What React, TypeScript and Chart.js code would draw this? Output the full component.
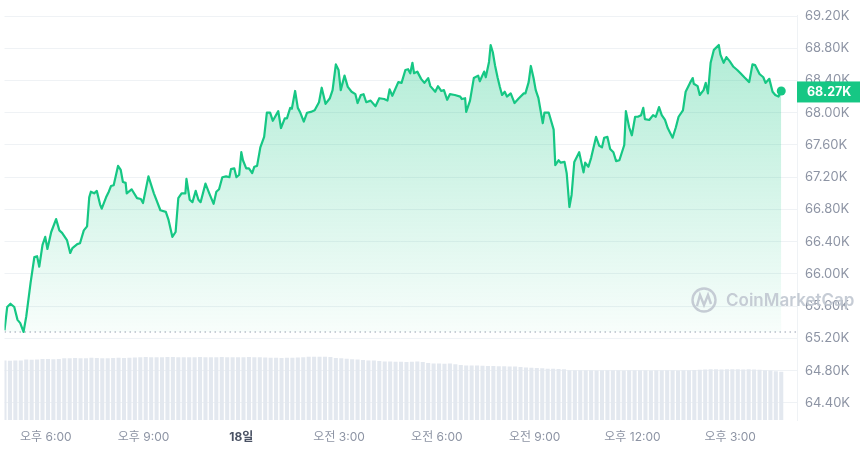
import React, { useEffect, useRef } from "react";
import { Chart, registerables } from "chart.js";

Chart.register(...registerables);

// minutes since 17일 16:44
const times = [
  0,5,11,18,24,29,35,40,48,55,60,64,70,75,79,86,95,101,106,115,121,125,134,139,146,152,156,159,165,170,176,179,187,192,196,201,209,214,218,223,225,234,244,251,255,265,275,287,297,302,309,315,320,326,333,335,341,346,352,357,361,
  370,377,385,390,395,401,408,414,417,423,427,432,436,439,445,450,456,460,465,471,478,483,489,494,504,509,516,520,526,529,535,540,544,551,557,564,571,579,584,591,599,604,610,615,619,626,632,639,646,650,656,661,666,674,683,690,
  699,705,709,714,725,731,738,743,747,751,754,760,767,773,780,784,793,798,804,809,815,820,829,839,842,848,850,857,864,872,875,883,886,892,895,899,903,908,912,916,921,925,932,939,947,956,959,965,969,974,978,983,991,994,1002,1011,1014,1020,1024,1031,1035,1040,1044,
  1049,1058,1066,1069,1075,1080,1089,1095,1100,1104,1110,1115,1121,1126,1132,1141,1144,1150,1155,1161,1166,1172,1176,1179,1187,1194,1199,1205,1210,1216,1221,1230,1236,1241,1249,1254,1262,1267,1269,1276,1280,1287,1291,1295,1300,1306,1315,1318,1324,1329,1335,1342,1349,1355,1362,1371,1377,1382,1390,1397,1401,1408,1414,1419,1425,1430,
];

// price in thousands USD
const prices = [
  65.30,65.59,65.63,65.59,65.43,65.39,65.28,65.47,65.89,66.21,66.22,66.09,66.36,66.46,66.31,66.52,66.68,66.54,66.51,66.42,66.26,66.32,66.37,66.38,66.54,66.59,66.95,67.02,67.00,67.03,66.86,66.81,66.95,67.02,67.09,67.10,67.34,67.29,67.14,67.13,67.00,67.05,66.94,66.93,66.88,67.21,67.00,66.79,66.77,66.67,66.46,66.52,66.94,67.00,67.00,67.18,66.92,66.89,67.03,66.92,66.89,
  67.12,67.00,66.87,67.02,67.05,67.20,67.21,67.20,67.30,67.31,67.20,67.23,67.51,67.41,67.31,67.31,67.25,67.33,67.34,67.57,67.70,68.00,68.00,67.90,68.02,67.81,67.93,67.93,68.06,68.05,68.27,68.06,68.01,67.89,68.00,68.01,68.03,68.13,68.31,68.11,68.18,68.28,68.60,68.53,68.28,68.46,68.32,68.26,68.23,68.12,68.22,68.23,68.13,68.15,68.08,68.18,
  68.17,68.15,68.29,68.21,68.38,68.37,68.53,68.54,68.49,68.62,68.49,68.51,68.42,68.37,68.43,68.33,68.26,68.33,68.27,68.28,68.16,68.23,68.22,68.20,68.17,68.18,68.01,68.15,68.43,68.46,68.39,68.51,68.44,68.63,68.84,68.75,68.59,68.43,68.32,68.22,68.26,68.20,68.24,68.12,68.18,68.24,68.24,68.38,68.58,68.43,68.28,68.18,67.87,68.00,68.00,67.79,67.35,67.41,67.38,67.39,67.25,66.83,66.98,
  67.39,67.51,67.26,67.38,67.33,67.44,67.70,67.59,67.57,67.69,67.70,67.55,67.51,67.40,67.41,67.60,68.02,67.82,67.72,67.95,67.95,67.97,68.06,67.92,67.91,67.97,67.95,68.07,67.97,67.91,67.81,67.69,67.82,67.95,68.03,68.26,68.37,68.43,68.36,68.33,68.22,68.28,68.37,68.24,68.62,68.78,68.84,68.72,68.62,68.69,68.64,68.57,68.53,68.49,68.44,68.38,68.60,68.59,68.48,68.44,68.37,68.42,68.26,68.22,68.20,68.27,
];

// 24h volume (billions USD), one bar every 10 minutes
const volumes = [
  35.8,35.7,35.9,35.8,36.4,36.3,36.5,36.7,36.8,36.6,36.7,
  37.3,37.2,37.4,37.3,37.3,37.5,37.4,37.3,37.2,37.4,37.5,37.4,37.6,37.7,
  37.9,38.0,37.9,37.8,37.9,38.0,38.0,37.9,37.8,37.9,37.9,38.0,37.9,37.8,37.9,38.0,37.9,37.9,37.8,37.9,38.0,37.9,37.8,37.7,37.6,
  37.5,37.4,37.6,37.5,37.7,37.9,38.1,38.2,38.1,38.2,38.0,37.4,37.2,37.0,36.6,36.4,36.2,35.9,35.8,35.6,
  35.3,35.2,35.1,35.1,35.0,35.1,35.2,34.9,34.3,34.1,34.0,33.9,34.0,33.6,
  33.1,32.9,32.8,32.8,32.7,32.6,32.5,32.4,32.4,32.3,32.2,32.0,31.6,31.4,31.3,31.2,30.9,30.8,30.7,30.5,
  30.0,29.9,29.9,30.0,29.9,29.8,29.9,29.9,30.0,29.9,29.8,29.9,29.9,30.0,29.9,29.8,29.9,30.0,29.9,29.9,29.8,29.9,30.0,30.1,30.2,
  30.4,30.5,30.5,30.4,30.5,30.6,30.5,30.4,30.5,30.4,30.3,30.0,29.8,29.4,29.1,
];
const volumeStep = 10; // minutes between volume bars

const openPrice = 65.28;
const yTicks = [64.4, 64.8, 65.2, 65.6, 66.0, 66.4, 66.8, 67.2, 67.6, 68.0, 68.4, 68.8, 69.2];
const xTickMinutes = [76, 256, 436, 616, 796, 976, 1156, 1336];
const xTickLabels = ["오후 6:00", "오후 9:00", "18일", "오전 3:00", "오전 6:00", "오전 9:00", "오후 12:00", "오후 3:00"];
const dayTick = 436;

const X_MAX = 1459;
const Y_MIN = 64.1876;
const Y_MAX = 69.2025;
const VOL_MAX = 245;

const GREEN = "#16c784";
const FONT = "Inter, 'Noto Sans CJK KR', sans-serif";

export default function App() {
  const ref = useRef<HTMLCanvasElement | null>(null);

  useEffect(() => {
    document.body.style.margin = "0";
    const canvas = ref.current;
    if (!canvas) return;

    const lineData = times.map((t, i) => ({ x: t, y: prices[i] }));
    const volData = volumes.map((v, i) => ({ x: i * volumeStep, y: v }));
    const lastIdx = prices.length - 1;

    const watermark = {
      id: "watermark",
      afterDatasetsDraw(chart: any) {
        const ctx = chart.ctx;
        ctx.save();
        ctx.strokeStyle = "rgba(192,198,208,0.9)";
        ctx.lineWidth = 2.4;
        ctx.beginPath();
        ctx.arc(704, 300, 11.5, 0, Math.PI * 2);
        ctx.stroke();
        ctx.beginPath();
        ctx.lineWidth = 2.4;
        ctx.moveTo(697, 306);
        ctx.lineTo(700, 295);
        ctx.lineTo(704, 305);
        ctx.lineTo(708, 295);
        ctx.lineTo(711, 304);
        ctx.stroke();
        ctx.fillStyle = "rgba(192,198,208,0.9)";
        ctx.font = `600 17px ${FONT}`;
        ctx.textBaseline = "middle";
        ctx.textAlign = "left";
        ctx.fillText("CoinMarketCap", 726, 301);
        ctx.restore();
      },
    };

    const badge = {
      id: "badge",
      afterDraw(chart: any) {
        const { ctx, chartArea, scales } = chart;
        const last = prices[lastIdx];
        const y = scales.y.getPixelForValue(last);
        ctx.save();
        ctx.fillStyle = GREEN;
        ctx.fillRect(chartArea.right, y - 9.5, 63, 21);
        ctx.fillStyle = "#ffffff";
        ctx.font = `bold 12.5px ${FONT}`;
        ctx.textBaseline = "middle";
        ctx.textAlign = "left";
        ctx.fillText(last.toFixed(2) + "K", chartArea.right + 10, y + 1.5);
        ctx.restore();
      },
    };

    const chart = new Chart(canvas, {
      type: "line",
      data: {
        datasets: [
          {
            type: "line",
            data: lineData,
            borderColor: GREEN,
            borderWidth: 2.2,
            tension: 0,
            borderJoinStyle: "round",
            pointRadius: (c: any) => (c.dataIndex === lastIdx ? 4.5 : 0),
            pointBackgroundColor: GREEN,
            pointBorderWidth: 0,
            fill: { value: openPrice },
            backgroundColor: (c: any) => {
              const { chart } = c;
              const area = chart.chartArea;
              if (!area) return "rgba(22,199,132,0.2)";
              const yb = chart.scales.y.getPixelForValue(openPrice);
              const g = chart.ctx.createLinearGradient(0, area.top + 40, 0, yb);
              g.addColorStop(0, "rgba(22,199,132,0.32)");
              g.addColorStop(1, "rgba(22,199,132,0.03)");
              return g;
            },
            order: 0,
          } as any,
          {
            type: "line",
            data: [
              { x: 0, y: openPrice },
              { x: X_MAX, y: openPrice },
            ],
            borderColor: "#b9bfca",
            borderWidth: 1.5,
            borderDash: [1.5, 3.5],
            pointRadius: 0,
            fill: false,
            order: 1,
          } as any,
          {
            type: "bar",
            data: volData,
            yAxisID: "yVol",
            backgroundColor: "#e3e8ef",
            barThickness: 3.4,
            order: 2,
          } as any,
        ],
      },
      options: {
        animation: false,
        responsive: false,
        maintainAspectRatio: false,
        layout: { padding: 0 },
        plugins: {
          legend: { display: false },
          tooltip: { enabled: false },
        },
        scales: {
          x: {
            type: "linear",
            min: 0,
            max: X_MAX,
            offset: false,
            grid: { display: false, drawTicks: false, offset: false },
            border: { display: false },
            afterBuildTicks: (s: any) => {
              s.ticks = xTickMinutes.map((v) => ({ value: v }));
            },
            afterFit: (s: any) => {
              s.height = 30;
            },
            ticks: {
              padding: 10,
              maxRotation: 0,
              autoSkip: false,
              callback: (v: any) => {
                const i = xTickMinutes.indexOf(Number(v));
                return i >= 0 ? xTickLabels[i] : "";
              },
              color: (c: any) => (c.tick && c.tick.value === dayTick ? "#4a5264" : "#8d94a4"),
              font: (c: any) =>
                c.tick && c.tick.value === dayTick
                  ? { family: FONT, size: 12, weight: "bold" }
                  : { family: FONT, size: 12 },
            },
          },
          y: {
            type: "linear",
            position: "right",
            min: Y_MIN,
            max: Y_MAX,
            grid: { color: "#eff2f5", drawTicks: false },
            border: { display: true, color: "#eff2f5" },
            afterBuildTicks: (s: any) => {
              s.ticks = yTicks.map((v) => ({ value: v }));
            },
            afterFit: (s: any) => {
              s.width = 63;
            },
            ticks: {
              padding: 8,
              color: "#8d94a4",
              font: { family: FONT, size: 13 },
              callback: (v: any) => Number(v).toFixed(2) + "K",
            },
          },
          yVol: {
            type: "linear",
            display: false,
            min: 0,
            max: VOL_MAX,
          },
        },
      } as any,
      plugins: [watermark, badge],
    });

    return () => chart.destroy();
  }, []);

  return <canvas ref={ref} width={860} height={450} style={{ display: "block" }} />;
}
